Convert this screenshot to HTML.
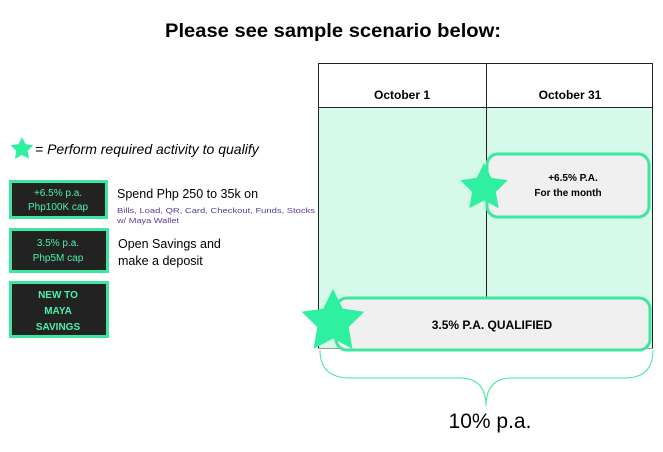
<!DOCTYPE html>
<html><head><meta charset="utf-8"><style>
body{margin:0;background:#fff;}
svg{display:block;font-family:"Liberation Sans",sans-serif;}
</style></head><body>
<svg width="663" height="452" viewBox="0 0 663 452" xmlns="http://www.w3.org/2000/svg">
<defs>
<polygon id="st" points="0,-1 0.294,-0.405 0.951,-0.309 0.476,0.155 0.588,0.809 0,0.5 -0.588,0.809 -0.476,0.155 -0.951,-0.309 -0.294,-0.405" fill="#2ff0a0"/>
</defs>
<rect width="663" height="452" fill="#fff"/>
<text x="333" y="37" text-anchor="middle" font-size="19" font-weight="bold" textLength="336" lengthAdjust="spacingAndGlyphs">Please see sample scenario below:</text>

<rect x="318" y="107" width="335" height="241" fill="#d5fae9"/>
<rect x="318.5" y="63.5" width="334" height="44" fill="#fff" stroke="#222" stroke-width="1"/>
<line x1="318.5" y1="63" x2="318.5" y2="348" stroke="#222"/>
<line x1="652.5" y1="63" x2="652.5" y2="348" stroke="#222"/>
<line x1="486.5" y1="63" x2="486.5" y2="298" stroke="#222"/>
<line x1="318" y1="348.5" x2="653" y2="348.5" stroke="#999"/>
<text x="402" y="99" text-anchor="middle" font-size="12" font-weight="bold">October 1</text>
<text x="570" y="99" text-anchor="middle" font-size="12" font-weight="bold">October 31</text>

<rect x="487" y="154" width="162" height="63" rx="11" fill="#f0f0f0" stroke="#3ee6a0" stroke-width="3"/>
<text x="573" y="181" text-anchor="middle" font-size="10" font-weight="bold">+6.5% P.A.</text>
<text x="568" y="196" text-anchor="middle" font-size="10" font-weight="bold">For the month</text>
<use href="#st" transform="translate(484,188) scale(25)"/>

<rect x="336" y="298" width="314" height="52" rx="11" fill="#f0f0f0" stroke="#3ee6a0" stroke-width="3"/>
<text x="492" y="329" text-anchor="middle" font-size="12" font-weight="bold">3.5% P.A. QUALIFIED</text>
<use href="#st" transform="translate(333,322) scale(33)"/>

<path d="M320,350 Q320,378 350,378 L460,378 Q486,378 486,406 Q486,378 512,378 L625,378 Q653,378 653,350" fill="none" stroke="#3ee6a0" stroke-width="1"/>
<text x="490" y="428" text-anchor="middle" font-size="21">10% p.a.</text>

<use href="#st" transform="translate(22,149) scale(12)"/>
<text x="35" y="154" font-size="14" font-style="italic">= Perform required activity to qualify</text>

<rect x="10.5" y="181.5" width="96" height="36" fill="#222" stroke="#3ee6a0" stroke-width="3"/>
<text x="58" y="196" text-anchor="middle" font-size="10" fill="#4ef0a8">+6.5% p.a.</text>
<text x="58" y="210" text-anchor="middle" font-size="10" fill="#4ef0a8">Php100K cap</text>
<rect x="10.5" y="229.5" width="97" height="42" fill="#222" stroke="#3ee6a0" stroke-width="3"/>
<text x="58" y="246" text-anchor="middle" font-size="10" fill="#4ef0a8">3.5% p.a.</text>
<text x="58" y="261" text-anchor="middle" font-size="10" fill="#4ef0a8">Php5M cap</text>
<rect x="10.5" y="282.5" width="97" height="54" fill="#222" stroke="#3ee6a0" stroke-width="3"/>
<text x="58" y="298" text-anchor="middle" font-size="10" font-weight="bold" fill="#4ef0a8">NEW TO</text>
<text x="58" y="314" text-anchor="middle" font-size="10" font-weight="bold" fill="#4ef0a8">MAYA</text>
<text x="58" y="330" text-anchor="middle" font-size="10" font-weight="bold" fill="#4ef0a8">SAVINGS</text>

<text x="117" y="198" font-size="12.5">Spend Php 250 to 35k on</text>
<text x="117" y="213" font-size="7.5" fill="#5a3a9a" textLength="198" lengthAdjust="spacingAndGlyphs">Bills, Load, QR, Card, Checkout,  Funds, Stocks</text>
<text x="117" y="223" font-size="7.5" fill="#5a3a9a" textLength="62" lengthAdjust="spacingAndGlyphs">w/ Maya Wallet</text>
<text x="118" y="248" font-size="12.5">Open Savings and</text>
<text x="118" y="265" font-size="12.5">make a deposit</text>
</svg>
</body></html>
